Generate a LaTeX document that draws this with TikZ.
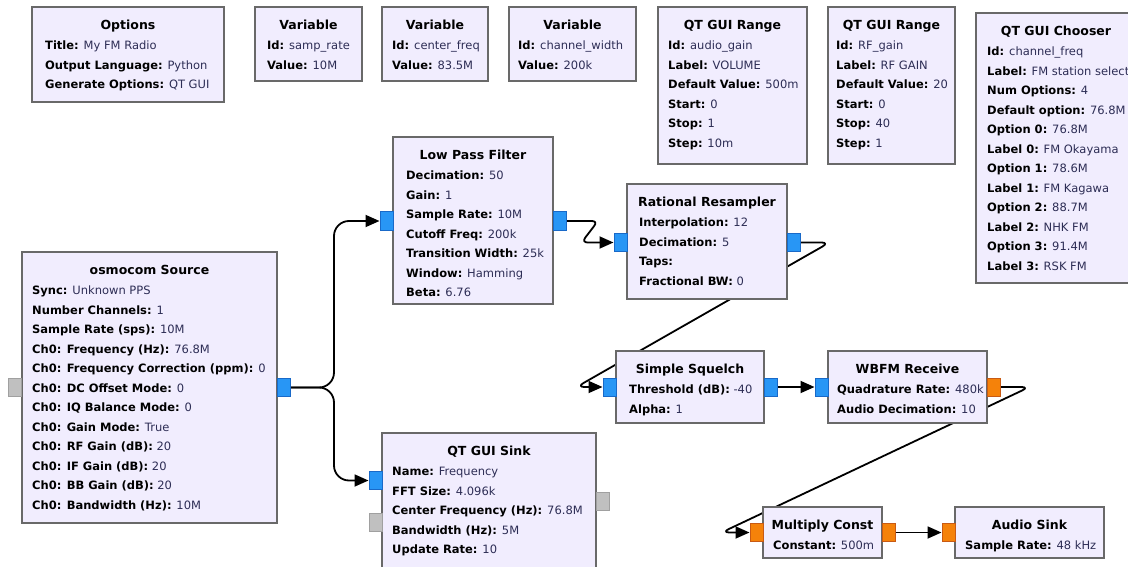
\documentclass[tikz,border=0pt]{standalone}
\usepackage{fontspec}
\setmainfont{DejaVu Sans}
\usetikzlibrary{arrows.meta}

\definecolor{blkfill}{RGB}{241,237,254}
\definecolor{blkline}{RGB}{105,105,105}
\definecolor{valcol}{RGB}{45,45,85}
\definecolor{cplxfill}{RGB}{40,150,245}
\definecolor{cplxline}{RGB}{25,105,200}
\definecolor{fltfill}{RGB}{245,130,10}
\definecolor{fltline}{RGB}{200,90,20}
\definecolor{msgfill}{RGB}{192,192,192}
\definecolor{msgline}{RGB}{160,160,160}

\pgfdeclarelayer{bg}
\pgfdeclarelayer{wires}
\pgfsetlayers{bg,wires,main}

\tikzset{
  blk/.style={draw=blkline, line width=2pt, fill=blkfill, rectangle, inner sep=0pt},
  ttl/.style={font=\fontsize{12.5}{15}\selectfont\bfseries, anchor=mid, inner sep=0pt},
  prm/.style={font=\fontsize{11.5}{14}\selectfont, anchor=mid west, inner sep=0pt},
  portbase/.style={rectangle, line width=1pt, minimum width=13pt, minimum height=18pt, inner sep=0pt},
  cplx/.style={portbase, draw=cplxline, fill=cplxfill},
  flt/.style={portbase, draw=fltline, fill=fltfill},
  msg/.style={portbase, draw=msgline, fill=msgfill},
  wire/.style={draw=black, line width=1.8pt, line join=round, -{Triangle[length=14pt,width=12pt]}},
  splitwire/.style={wire, rounded corners=15pt},
  loopwire/.style={wire, rounded corners=8pt},
}

% block: name, x1, y1, x2, y2, title, text indent, list of label/value pairs
\newcommand\grcblock[8]{%
  \node[blk, minimum width={(#4-#2)*1pt}, minimum height={(#5-#3)*1pt}]
    (#1) at ({(#2+#4)/2},{(#3+#5)/2}) {};
  \node[ttl] (#1-t) at ({(#2+#4)/2},{#3+20}) {#6};
  \foreach \lab/\val [count=\i] in {#8} {
    \node[prm] (#1-p\i) at ({#2+#7},{#3+40+(\i-1)*19.5})
      {\textbf{\lab} \textcolor{valcol}{\val}};
  }%
}

\begin{document}
\begin{tikzpicture}[x=1pt, y=-1pt]
\useasboundingbox (0,0) rectangle (1128,567);
\begin{pgfonlayer}{bg}
  \fill[white] (0,0) rectangle (1128,567);
\end{pgfonlayer}
\clip (0,0) rectangle (1128,567);

% ---- variables and GUI widgets ----
\grcblock{opts}{32}{7}{224}{102}{Options}{13}{%
  Title:/My FM Radio, Output Language:/Python, Generate Options:/QT GUI}
\grcblock{vsamp}{255}{7}{362}{81}{Variable}{12}{%
  Id:/samp\_rate, Value:/10M}
\grcblock{vcent}{382}{7}{488}{81}{Variable}{10}{%
  Id:/center\_freq, Value:/83.5M}
\grcblock{vchw}{509}{7}{636}{81}{Variable}{9}{%
  Id:/channel\_width, Value:/200k}
\grcblock{rvol}{658}{7}{807}{164}{QT GUI Range}{10}{%
  Id:/audio\_gain, Label:/VOLUME, Default Value:/500m, Start:/0, Stop:/1, Step:/10m}
\grcblock{rrf}{828}{7}{955}{164}{QT GUI Range}{8}{%
  Id:/RF\_gain, Label:/RF GAIN, Default Value:/20, Start:/0, Stop:/40, Step:/1}
\grcblock{chooser}{976}{13}{1136}{283}{QT GUI Chooser}{11}{%
  Id:/channel\_freq, Label:/FM station select, Num Options:/4,
  Default option:/76.8M, Option 0:/76.8M, Label 0:/FM Okayama,
  Option 1:/78.6M, Label 1:/FM Kagawa, Option 2:/88.7M, Label 2:/NHK FM,
  Option 3:/91.4M, Label 3:/RSK FM}

% ---- signal chain ----
\grcblock{src}{22}{252}{277}{523}{osmocom Source}{10}{%
  Sync:/Unknown PPS, Number Channels:/1, Sample Rate (sps):/10M,
  Ch0: Frequency (Hz):/76.8M, Ch0: Frequency Correction (ppm):/0,
  Ch0: DC Offset Mode:/0, Ch0: IQ Balance Mode:/0, Ch0: Gain Mode:/True,
  Ch0: RF Gain (dB):/20, Ch0: IF Gain (dB):/20, Ch0: BB Gain (dB):/20,
  Ch0: Bandwidth (Hz):/10M}
\grcblock{lpf}{393}{137}{553}{304}{Low Pass Filter}{13}{%
  Decimation:/50, Gain:/1, Sample Rate:/10M, Cutoff Freq:/200k,
  Transition Width:/25k, Window:/Hamming, Beta:/6.76}
\grcblock{rrs}{627}{184}{787}{299}{Rational Resampler}{12}{%
  Interpolation:/12, Decimation:/5, Taps:/{}, Fractional BW:/0}
\grcblock{sq}{616}{351}{764}{423}{Simple Squelch}{13}{%
  Threshold (dB):/-40, Alpha:/1}
\grcblock{wb}{828}{351}{987}{423}{WBFM Receive}{9}{%
  Quadrature Rate:/480k, Audio Decimation:/10}
\grcblock{sink}{382}{433}{596}{575}{QT GUI Sink}{10}{%
  Name:/Frequency, FFT Size:/4.096k, Center Frequency (Hz):/76.8M,
  Bandwidth (Hz):/5M, Update Rate:/10}
\grcblock{mul}{763}{507}{882}{558}{Multiply Const}{10}{%
  Constant:/500m}
\grcblock{aud}{955}{507}{1104}{558}{Audio Sink}{10}{%
  Sample Rate:/48 kHz}

% ---- ports ----
\node[msg]  (src-msg)  at (14.5,387.5) {};
\node[cplx] (src-out)  at (284,387.5) {};
\node[cplx] (lpf-in)   at (386.5,221) {};
\node[cplx] (lpf-out)  at (560,221) {};
\node[cplx] (rrs-in)   at (620.5,242.5) {};
\node[cplx] (rrs-out)  at (793.5,242.5) {};
\node[cplx] (sq-in)    at (609.5,387) {};
\node[cplx] (sq-out)   at (770.5,387) {};
\node[cplx] (wb-in)    at (821.5,387) {};
\node[flt]  (wb-out)   at (993.5,387) {};
\node[cplx] (sink-in)  at (375.5,480.5) {};
\node[msg]  (sink-mout) at (602.5,501.5) {};
\node[msg]  (sink-min) at (375.5,522.5) {};
\node[flt]  (mul-in)   at (756.5,532.5) {};
\node[flt]  (mul-out)  at (888.5,532.5) {};
\node[flt]  (aud-in)   at (948.5,532.5) {};

% ---- connections ----
\begin{pgfonlayer}{wires}
  \draw[splitwire] (src-out.east) -- ++(43,0) |- (lpf-in.west);
  \draw[splitwire] (src-out.east) -- ++(43,0) |- (sink-in.west);
  \draw[wire, rounded corners=6pt] (lpf-out.east) -- ++(31,0)
        -- ([xshift=-32pt]rrs-in.west) -- (rrs-in.west);
  \draw[loopwire] (rrs-out.east) -- ++(29,0)
        -- ([xshift=-26pt]sq-in.west) -- (sq-in.west);
  \draw[wire] (sq-out.east) -- (wb-in.west);
  \draw[loopwire] (wb-out.east) -- ++(29,0)
        -- ([xshift=-28pt]mul-in.west) -- (mul-in.west);
  \draw[wire] (mul-out.east) -- (aud-in.west);
\end{pgfonlayer}
\end{tikzpicture}
\end{document}
